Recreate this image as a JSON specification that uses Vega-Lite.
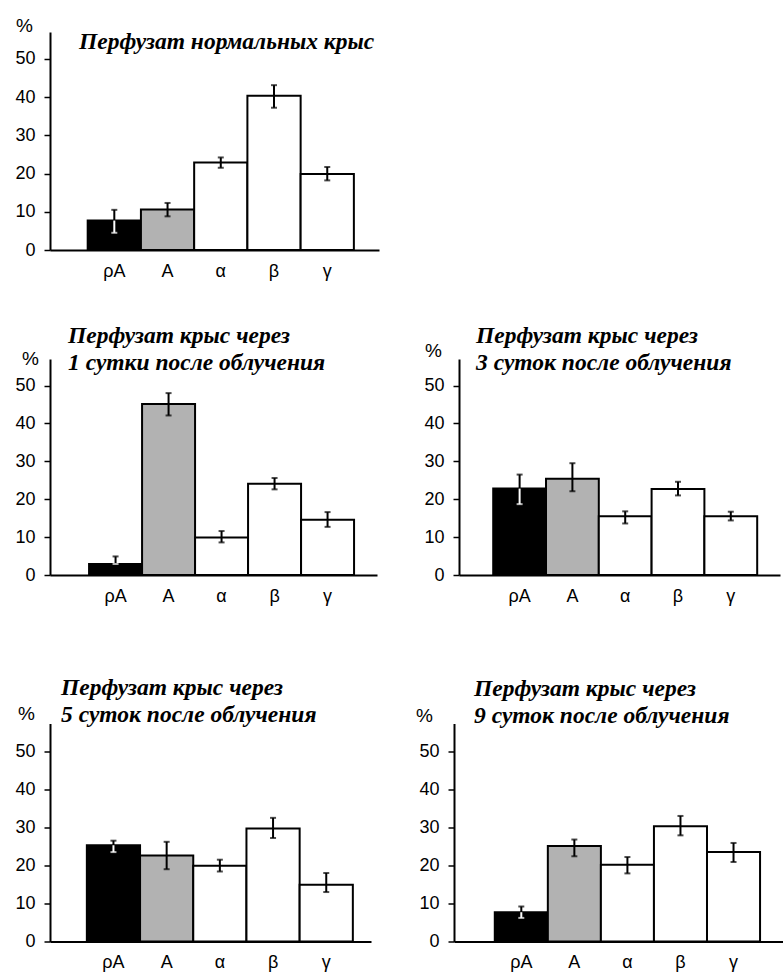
{
  "$schema": "https://vega.github.io/schema/vega-lite/v6.json",
  "background": "white",
  "padding": {"left": 14, "top": 16, "right": 0, "bottom": 0},
  "datasets": {
    "fractions": [
      {"panel": "p0", "cat": "ρA", "value": 7.7, "lo": 4.5, "hi": 10.5},
      {"panel": "p0", "cat": "A", "value": 10.6, "lo": 8.8, "hi": 12.3},
      {"panel": "p0", "cat": "α", "value": 22.9, "lo": 21.5, "hi": 24.2},
      {"panel": "p0", "cat": "β", "value": 40.3, "lo": 37.2, "hi": 43.1},
      {"panel": "p0", "cat": "γ", "value": 19.9, "lo": 18.2, "hi": 21.7},
      {"panel": "p1", "cat": "ρA", "value": 2.9, "lo": 2.9, "hi": 4.9},
      {"panel": "p1", "cat": "A", "value": 45.1, "lo": 42.1, "hi": 48.0},
      {"panel": "p1", "cat": "α", "value": 9.9, "lo": 8.6, "hi": 11.6},
      {"panel": "p1", "cat": "β", "value": 24.1, "lo": 22.6, "hi": 25.6},
      {"panel": "p1", "cat": "γ", "value": 14.6, "lo": 12.7, "hi": 16.6},
      {"panel": "p3", "cat": "ρA", "value": 22.8, "lo": 18.7, "hi": 26.5},
      {"panel": "p3", "cat": "A", "value": 25.4, "lo": 22.1, "hi": 29.5},
      {"panel": "p3", "cat": "α", "value": 15.5, "lo": 13.6, "hi": 16.8},
      {"panel": "p3", "cat": "β", "value": 22.7, "lo": 21.0, "hi": 24.6},
      {"panel": "p3", "cat": "γ", "value": 15.5, "lo": 14.4, "hi": 16.7},
      {"panel": "p5", "cat": "ρA", "value": 25.3, "lo": 23.5, "hi": 26.5},
      {"panel": "p5", "cat": "A", "value": 22.6, "lo": 19.0, "hi": 26.2},
      {"panel": "p5", "cat": "α", "value": 19.9, "lo": 18.4, "hi": 21.5},
      {"panel": "p5", "cat": "β", "value": 29.7, "lo": 27.2, "hi": 32.5},
      {"panel": "p5", "cat": "γ", "value": 14.9, "lo": 13.0, "hi": 18.0},
      {"panel": "p9", "cat": "ρA", "value": 7.7, "lo": 6.2, "hi": 9.2},
      {"panel": "p9", "cat": "A", "value": 25.1, "lo": 22.4, "hi": 26.8},
      {"panel": "p9", "cat": "α", "value": 20.2, "lo": 17.9, "hi": 22.2},
      {"panel": "p9", "cat": "β", "value": 30.3, "lo": 27.9, "hi": 33.0},
      {"panel": "p9", "cat": "γ", "value": 23.5, "lo": 20.9, "hi": 25.9}
    ]
  },
  "bounds": "flush",
  "spacing": 109,
  "vconcat": [
    {
      "width": 329,
      "height": 218,
      "data": {"name": "fractions"},
      "title": {"text": "Перфузат нормальных крыс", "offset": -37, "dx": 29},
      "transform": [{"filter": "datum.panel === 'p0'"}],
      "encoding": {
        "x": {"field": "cat", "type": "nominal", "sort": null, "title": null,
              "scale": {"paddingInner": 0, "paddingOuter": 0.59, "align": 0.6}}
      },
      "layer": [
        {"mark": {"type": "bar", "stroke": "black", "strokeWidth": 2},
         "encoding": {
           "y": {"field": "value", "type": "quantitative", "scale": {"domain": [0, 57]},
                 "axis": {"values": [0, 10, 20, 30, 40, 50], "title": "%", "titleX": -26, "titleY": -7}},
           "fill": {"field": "cat", "type": "nominal", "legend": null,
                    "scale": {"domain": ["ρA", "A", "α", "β", "γ"], "range": ["black", "#b2b2b2", "white", "white", "white"]}}}},
        {"mark": {"type": "rule", "strokeWidth": 2, "color": "black"},
         "encoding": {"y": {"field": "value", "type": "quantitative", "scale": {"domain": [0, 57]}, "title": "%"}, "y2": {"field": "hi"}}},
        {"mark": {"type": "rule", "strokeWidth": 2},
         "encoding": {"y": {"field": "lo", "type": "quantitative", "scale": {"domain": [0, 57]}, "title": "%"}, "y2": {"field": "value"},
                      "color": {"condition": {"test": "datum.cat === 'ρA'", "value": "white"}, "value": "black"}}},
        {"mark": {"type": "tick", "thickness": 2, "size": 6, "color": "black"},
         "encoding": {"y": {"field": "hi", "type": "quantitative", "scale": {"domain": [0, 57]}, "title": "%"}}},
        {"mark": {"type": "tick", "thickness": 2, "size": 6},
         "encoding": {"y": {"field": "lo", "type": "quantitative", "scale": {"domain": [0, 57]}, "title": "%"},
                      "color": {"condition": {"test": "datum.cat === 'ρA'", "value": "white"}, "value": "black"}}}
      ]
    },
    {
      "bounds": "flush",
      "spacing": 364.5,
      "vconcat": [
        {
          "bounds": "flush",
          "spacing": 82,
          "hconcat": [
            {
              "width": 327,
              "height": 216,
              "data": {"name": "fractions"},
              "title": {"text": ["Перфузат крыс через", "1 сутки после облучения"], "offset": -25.5, "dx": 18},
              "transform": [{"filter": "datum.panel === 'p1'"}],
              "encoding": {
                "x": {"field": "cat", "type": "nominal", "sort": null, "title": null,
                      "scale": {"paddingInner": 0, "paddingOuter": 0.585, "align": 0.63}}
              },
              "layer": [
                {"mark": {"type": "bar", "stroke": "black", "strokeWidth": 2},
                 "encoding": {
                   "y": {"field": "value", "type": "quantitative", "scale": {"domain": [0, 57]},
                         "axis": {"values": [0, 10, 20, 30, 40, 50], "title": "%", "titleX": -20, "titleY": -1}},
                   "fill": {"field": "cat", "type": "nominal", "legend": null,
                            "scale": {"domain": ["ρA", "A", "α", "β", "γ"], "range": ["black", "#b2b2b2", "white", "white", "white"]}}}},
                {"mark": {"type": "rule", "strokeWidth": 2, "color": "black"},
                 "encoding": {"y": {"field": "value", "type": "quantitative", "scale": {"domain": [0, 57]}, "title": "%"}, "y2": {"field": "hi"}}},
                {"mark": {"type": "rule", "strokeWidth": 2},
                 "encoding": {"y": {"field": "lo", "type": "quantitative", "scale": {"domain": [0, 57]}, "title": "%"}, "y2": {"field": "value"},
                              "color": {"condition": {"test": "datum.cat === 'ρA'", "value": "white"}, "value": "black"}}},
                {"mark": {"type": "tick", "thickness": 2, "size": 6, "color": "black"},
                 "encoding": {"y": {"field": "hi", "type": "quantitative", "scale": {"domain": [0, 57]}, "title": "%"}}},
                {"mark": {"type": "tick", "thickness": 2, "size": 6},
                 "encoding": {"y": {"field": "lo", "type": "quantitative", "scale": {"domain": [0, 57]}, "title": "%"},
                              "color": {"condition": {"test": "datum.cat === 'ρA'", "value": "white"}, "value": "black"}}}
              ]
            },
            {
              "width": 321,
              "height": 216,
              "data": {"name": "fractions"},
              "title": {"text": ["Перфузат крыс через", "3 суток после облучения"], "offset": -33.5, "dx": 17},
              "transform": [{"filter": "datum.panel === 'p3'"}],
              "encoding": {
                "x": {"field": "cat", "type": "nominal", "sort": null, "title": null,
                      "scale": {"paddingInner": 0, "paddingOuter": 0.54, "align": 0.6}}
              },
              "layer": [
                {"mark": {"type": "bar", "stroke": "black", "strokeWidth": 2},
                 "encoding": {
                   "y": {"field": "value", "type": "quantitative", "scale": {"domain": [0, 57]},
                         "axis": {"values": [0, 10, 20, 30, 40, 50], "title": "%", "titleX": -26, "titleY": -9}},
                   "fill": {"field": "cat", "type": "nominal", "legend": null,
                            "scale": {"domain": ["ρA", "A", "α", "β", "γ"], "range": ["black", "#b2b2b2", "white", "white", "white"]}}}},
                {"mark": {"type": "rule", "strokeWidth": 2, "color": "black"},
                 "encoding": {"y": {"field": "value", "type": "quantitative", "scale": {"domain": [0, 57]}, "title": "%"}, "y2": {"field": "hi"}}},
                {"mark": {"type": "rule", "strokeWidth": 2},
                 "encoding": {"y": {"field": "lo", "type": "quantitative", "scale": {"domain": [0, 57]}, "title": "%"}, "y2": {"field": "value"},
                              "color": {"condition": {"test": "datum.cat === 'ρA'", "value": "white"}, "value": "black"}}},
                {"mark": {"type": "tick", "thickness": 2, "size": 6, "color": "black"},
                 "encoding": {"y": {"field": "hi", "type": "quantitative", "scale": {"domain": [0, 57]}, "title": "%"}}},
                {"mark": {"type": "tick", "thickness": 2, "size": 6},
                 "encoding": {"y": {"field": "lo", "type": "quantitative", "scale": {"domain": [0, 57]}, "title": "%"},
                              "color": {"condition": {"test": "datum.cat === 'ρA'", "value": "white"}, "value": "black"}}}
              ]
            }
          ]
        },
        {
          "bounds": "flush",
          "spacing": 83,
          "hconcat": [
            {
              "width": 321,
              "height": 218,
              "data": {"name": "fractions"},
              "title": {"text": ["Перфузат крыс через", "5 суток после облучения"], "offset": -21.5, "dx": 11},
              "transform": [{"filter": "datum.panel === 'p5'"}],
              "encoding": {
                "x": {"field": "cat", "type": "nominal", "sort": null, "title": null,
                      "scale": {"paddingInner": 0, "paddingOuter": 0.517, "align": 0.67}}
              },
              "layer": [
                {"mark": {"type": "bar", "stroke": "black", "strokeWidth": 2},
                 "encoding": {
                   "y": {"field": "value", "type": "quantitative", "scale": {"domain": [0, 57.3]},
                         "axis": {"values": [0, 10, 20, 30, 40, 50], "title": "%", "titleX": -24, "titleY": -10}},
                   "fill": {"field": "cat", "type": "nominal", "legend": null,
                            "scale": {"domain": ["ρA", "A", "α", "β", "γ"], "range": ["black", "#b2b2b2", "white", "white", "white"]}}}},
                {"mark": {"type": "rule", "strokeWidth": 2, "color": "black"},
                 "encoding": {"y": {"field": "value", "type": "quantitative", "scale": {"domain": [0, 57.3]}, "title": "%"}, "y2": {"field": "hi"}}},
                {"mark": {"type": "rule", "strokeWidth": 2},
                 "encoding": {"y": {"field": "lo", "type": "quantitative", "scale": {"domain": [0, 57.3]}, "title": "%"}, "y2": {"field": "value"},
                              "color": {"condition": {"test": "datum.cat === 'ρA'", "value": "white"}, "value": "black"}}},
                {"mark": {"type": "tick", "thickness": 2, "size": 6, "color": "black"},
                 "encoding": {"y": {"field": "hi", "type": "quantitative", "scale": {"domain": [0, 57.3]}, "title": "%"}}},
                {"mark": {"type": "tick", "thickness": 2, "size": 6},
                 "encoding": {"y": {"field": "lo", "type": "quantitative", "scale": {"domain": [0, 57.3]}, "title": "%"},
                              "color": {"condition": {"test": "datum.cat === 'ρA'", "value": "white"}, "value": "black"}}}
              ]
            },
            {
              "width": 330,
              "height": 218,
              "data": {"name": "fractions"},
              "title": {"text": ["Перфузат крыс через", "9 суток после облучения"], "offset": -20.5, "dx": 20},
              "transform": [{"filter": "datum.panel === 'p9'"}],
              "encoding": {
                "x": {"field": "cat", "type": "nominal", "sort": null, "title": null,
                      "scale": {"paddingInner": 0, "paddingOuter": 0.61, "align": 0.63}}
              },
              "layer": [
                {"mark": {"type": "bar", "stroke": "black", "strokeWidth": 2},
                 "encoding": {
                   "y": {"field": "value", "type": "quantitative", "scale": {"domain": [0, 57.3]},
                         "axis": {"values": [0, 10, 20, 30, 40, 50], "title": "%", "titleX": -30, "titleY": -8}},
                   "fill": {"field": "cat", "type": "nominal", "legend": null,
                            "scale": {"domain": ["ρA", "A", "α", "β", "γ"], "range": ["black", "#b2b2b2", "white", "white", "white"]}}}},
                {"mark": {"type": "rule", "strokeWidth": 2, "color": "black"},
                 "encoding": {"y": {"field": "value", "type": "quantitative", "scale": {"domain": [0, 57.3]}, "title": "%"}, "y2": {"field": "hi"}}},
                {"mark": {"type": "rule", "strokeWidth": 2},
                 "encoding": {"y": {"field": "lo", "type": "quantitative", "scale": {"domain": [0, 57.3]}, "title": "%"}, "y2": {"field": "value"},
                              "color": {"condition": {"test": "datum.cat === 'ρA'", "value": "white"}, "value": "black"}}},
                {"mark": {"type": "tick", "thickness": 2, "size": 6, "color": "black"},
                 "encoding": {"y": {"field": "hi", "type": "quantitative", "scale": {"domain": [0, 57.3]}, "title": "%"}}},
                {"mark": {"type": "tick", "thickness": 2, "size": 6},
                 "encoding": {"y": {"field": "lo", "type": "quantitative", "scale": {"domain": [0, 57.3]}, "title": "%"},
                              "color": {"condition": {"test": "datum.cat === 'ρA'", "value": "white"}, "value": "black"}}}
              ]
            }
          ]
        }
      ]
    }
  ],
  "config": {
    "view": {"stroke": null},
    "font": "Liberation Sans",
    "axis": {
      "domainColor": "black", "domainWidth": 2, "grid": false,
      "tickColor": "black", "labelColor": "black", "labelFont": "Liberation Sans", "labelFontSize": 18,
      "titleFont": "Liberation Sans", "titleFontSize": 19, "titleFontWeight": "normal", "titleColor": "black"
    },
    "axisX": {"ticks": false, "labelPadding": 12, "labelAngle": 0},
    "axisY": {"tickSize": 6, "tickWidth": 1.5, "labelPadding": 9, "titleAngle": 0, "titleAlign": "center", "titleBaseline": "middle"},
    "title": {
      "font": "Liberation Serif", "fontStyle": "italic", "fontWeight": "bold", "fontSize": 23.5,
      "color": "black", "anchor": "start", "frame": "group", "baseline": "middle", "lineHeight": 27
    }
  }
}
